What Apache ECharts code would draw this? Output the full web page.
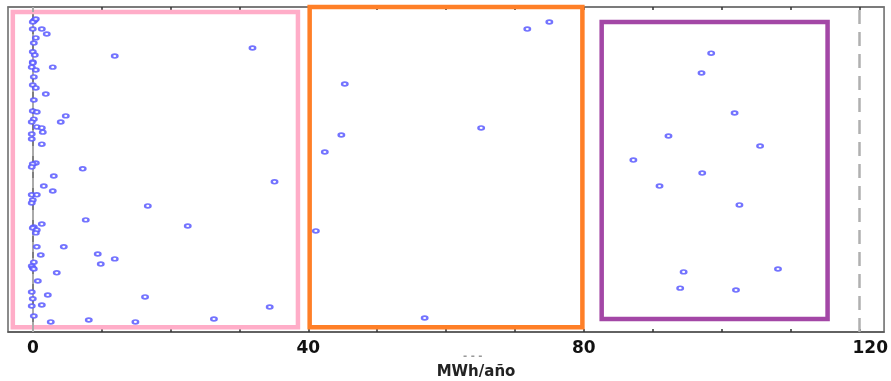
<!DOCTYPE html>
<html>
<head>
<meta charset="utf-8">
<script src="https://cdn.jsdelivr.net/npm/echarts@6/dist/echarts.min.js"></script>
<style>html,body{margin:0;padding:0;background:#fff;}#c{width:891px;height:381px;}</style>
</head>
<body>
<div id="c"></div>
<script>
// Data values (x = MWh/año, y = vertical jitter position 0-100)
const pinkX = [0.29,0.15,0,0.44,0,1.31,2.03,0.44,0.15,31.9,0,0.29,11.9,0,0,-0.15,2.9,0.44,0.15,0,0.44,1.89,0.15,0,0.58,0.15,-0.15,4.79,4.06,0.58,1.31,1.45,-0.15,-0.15,1.31,0.44,0,-0.15,7.25,3.05,35.1,1.6,2.9,-0.15,0.58,0,-0.15,16.7,7.69,22.5,1.31,0.15,0,0.58,0.44,0.58,4.5,1.16,9.43,11.9,9.87,0.15,-0.15,0,0.15,3.48,0.73,-0.15,2.18,0,16.3,1.31,-0.15,34.4,0.15,2.61,8.13,14.9,26.3];
const pinkY = [96.0,95.7,95.4,96.3,93.2,93.2,91.7,90.5,88.9,87.4,86.2,85.2,84.9,83.1,82.8,81.5,81.5,80.6,78.5,76.0,75.1,73.2,71.4,68.0,67.7,65.5,64.6,66.5,64.6,63.1,62.8,61.5,60.9,59.4,57.8,52.0,51.7,50.8,50.2,48.0,46.2,44.9,43.4,42.2,42.2,40.6,39.7,38.8,34.5,32.6,33.2,32.3,32.0,31.4,30.5,26.2,26.2,23.7,24.0,22.5,20.9,21.5,20.3,19.7,19.4,18.2,15.7,12.3,11.4,10.2,10.8,8.3,8.0,7.7,4.9,3.1,3.7,3.1,4.0];
const orangeX = [75.0,71.8,45.3,65.1,44.8,42.4,41.1,56.9];
const orangeY = [95.4,93.2,76.3,62.8,60.6,55.4,31.1,4.3];
const purpleX = [98.5,97.1,101.9,92.3,105.6,87.2,97.2,91.0,102.6,94.5,108.2,94.0,102.1];
const purpleY = [85.8,79.7,67.4,60.3,57.2,52.9,48.9,44.9,39.1,18.5,19.4,13.5,12.9];
const tickLabels = [0, 40, 80, 120];
const minorTicks = [0,10,20,30,40,50,60,70,80,90,100,110,120];
// Group boxes [xMin, xMax, yMin, yMax]
const pinkBox = [-2.9, 38.5, 1.5, 98.5];
const orangeBox = [40.2, 79.8, 1.5, 100];
const purpleBox = [82.6, 115.4, 4.0, 95.4];
const refLines = [0, 120];
const axisName = 'MWh/año';

const zip = (xs, ys) => xs.map((x, i) => [x, ys[i]]);
const allPts = zip(pinkX, pinkY).concat(zip(orangeX, orangeY), zip(purpleX, purpleY));

function box(b, color, w) {
  return [{ xAxis: b[0], yAxis: b[2], itemStyle: { color: 'rgba(0,0,0,0)', borderColor: color, borderWidth: w } }, { xAxis: b[1], yAxis: b[3] }];
}

const chart = echarts.init(document.getElementById('c'), null, { renderer: 'canvas' });
chart.setOption({
  animation: false,
  backgroundColor: '#fff',
  grid: { left: 8, right: 6, top: 7, bottom: 49, show: true, borderColor: '#666', borderWidth: 1.5, backgroundColor: '#fff' },
  xAxis: [{
    type: 'value', min: -3.6, max: 123.6,
    axisLine: { show: true, lineStyle: { color: '#555', width: 1.5 } },
    splitLine: { show: false },
    axisTick: { show: true, inside: true, length: 3, customValues: minorTicks, lineStyle: { color: '#333', width: 1.5 } },
    axisLabel: {
      customValues: tickLabels, margin: 8,
      fontFamily: 'DejaVu Sans', fontWeight: 'bold', fontSize: 17, color: '#111',
      formatter: v => v === 120 ? '{r|120}' : String(v),
      rich: { r: { fontFamily: 'DejaVu Sans', fontWeight: 'bold', fontSize: 17, color: '#111', padding: [0, 0, 0, 22] } }
    }
  }, {
    type: 'value', min: -3.6, max: 123.6, position: 'top',
    axisLine: { show: true, lineStyle: { color: '#777', width: 1.5 } },
    splitLine: { show: false },
    axisTick: { show: true, inside: true, length: 3, customValues: minorTicks, lineStyle: { color: '#333', width: 1.5 } },
    axisLabel: { show: false }
  }],
  yAxis: {
    type: 'value', min: 0, max: 100,
    axisLine: { show: true, lineStyle: { color: '#555', width: 1.5 } },
    axisTick: { show: false }, axisLabel: { show: false }, splitLine: { show: false }
  },
  graphic: [
    { type: 'text', left: 463, top: 351, style: { text: '- - -', fill: '#999', font: 'bold 10px DejaVu Sans' } },
    { type: 'text', x: 476, y: 372, style: { text: axisName, fill: '#222', font: 'bold 15px DejaVu Sans', textAlign: 'center', textVerticalAlign: 'middle' } }
  ],
  series: [{
    type: 'scatter',
    data: allPts,
    symbol: 'emptyCircle',
    symbolSize: [5.5, 3.8],
    itemStyle: { color: '#5a5aff', borderColor: '#5a5aff', borderWidth: 1.5, opacity: 0.85 },
    clip: false,
    z: 5,
    markLine: {
      silent: true, symbol: 'none', label: { show: false },
      data: [
        { xAxis: refLines[0], lineStyle: { color: '#aaa', width: 2, type: [10, 6] } },
        { xAxis: refLines[1], lineStyle: { color: '#b0b0b0', width: 2.5, type: [14, 8] } }
      ]
    },
    markArea: {
      silent: true,
      data: [box(pinkBox, '#ffadc8', 4.5), box(orangeBox, '#ff7f27', 4.5), box(purpleBox, '#a347a6', 4.5)]
    }
  }]
});
</script>
</body>
</html>
